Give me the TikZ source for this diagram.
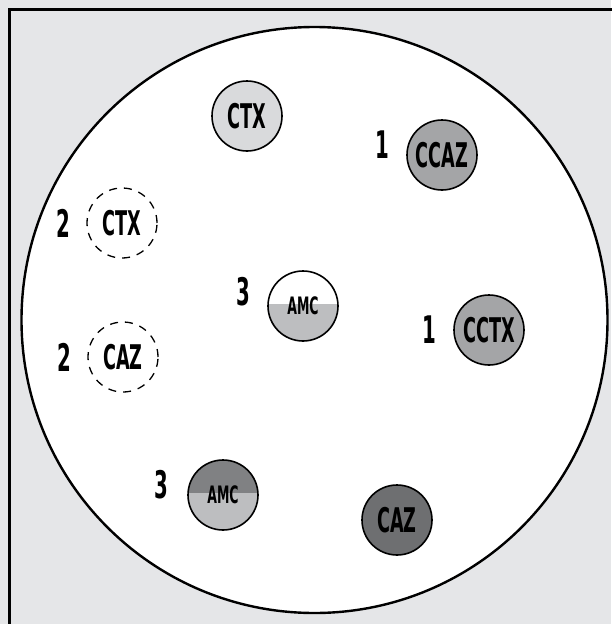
\documentclass[tikz,border=0pt]{standalone}
\usepackage{fontspec}
\newfontfamily\lblfont{DejaVu Sans}[FakeStretch=0.52]
\usetikzlibrary{positioning}
\definecolor{PlateGray}{HTML}{E5E6E8}
\definecolor{PaleGray}{HTML}{D9DADC}
\definecolor{MidGray}{HTML}{A4A5A7}
\definecolor{DarkGray}{HTML}{6E6F71}
\definecolor{HalfGray}{HTML}{BDBEC0}
\definecolor{TopGray}{HTML}{808183}
\tikzstyle{Disc} = [draw, circle, line width=1.6pt, minimum size=70pt, inner sep=0pt,
                    font=\lblfont\bfseries\fontsize{34}{34}\selectfont]
\tikzstyle{Dashed} = [Disc, fill=white, line width=1.3pt, dash pattern=on 8pt off 7pt]
\tikzstyle{Split} = [Disc, font=\lblfont\bfseries\fontsize{24}{24}\selectfont,
                     path picture={\fill[HalfGray] ([yshift=2pt]path picture bounding box.west)
                                   rectangle (path picture bounding box.south east);}]
\tikzstyle{Num} = [inner sep=0pt, font=\lblfont\bfseries\fontsize{38}{38}\selectfont]

\begin{document}
\begin{tikzpicture}[x=1pt, y=-1pt]
    \useasboundingbox (0,0) rectangle (611,624);
    \fill[PlateGray] (0,0) rectangle (611,624);
    \draw[line width=3pt] (9,640) -- (9,9) -- (630,9);
    \draw[line width=2.4pt, fill=white] (314.5,320) circle[radius=293];
    % discs
    \node[Disc, fill=PaleGray] (ctx)   at (247,116) {CTX};
    \node[Disc, fill=MidGray]  (ccaz)  at (442,155) {CCAZ};
    \node[Dashed]              (ctx2)  at (122,223) {CTX};
    \node[Split, fill=white]   (amc)   at (303,306) {\raisebox{-10pt}{AMC}};
    \node[Disc, fill=MidGray]  (cctx)  at (489,330) {CCTX};
    \node[Dashed]              (caz2)  at (123,357) {CAZ};
    \node[Split, fill=TopGray] (amc2)  at (223,495) {\raisebox{-10pt}{AMC}};
    \node[Disc, fill=DarkGray] (caz)   at (397,520) {CAZ};
    % numbers
    \node[Num] (n_ccaz) [left=17pt of ccaz, yshift=10pt] {1};
    \node[Num] (n_cctx) [left=17pt of cctx] {1};
    \node[Num] (n_ctx)  [left=16pt of ctx2] {2};
    \node[Num] (n_caz)  [left=16pt of caz2] {2};
    \node[Num] (n_amc)  [left=17pt of amc, yshift=14pt] {3};
    \node[Num] (n_amc2) [left=19pt of amc2, yshift=10pt] {3};
\end{tikzpicture}
\end{document}
